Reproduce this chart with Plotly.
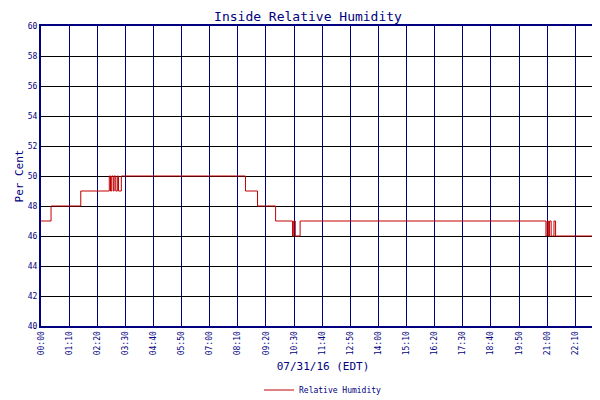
import plotly.graph_objects as go

times = [0, 25, 99, 170, 173, 176, 180, 182, 186, 190, 193, 200, 206, 509, 539, 584, 626, 629, 633, 637, 645, 653, 1257, 1260, 1263, 1266, 1270, 1274, 1277, 1281, 1284, 1391, 1393, 1395, 1398, 1400, 1404]
values = [47, 48, 49, 50, 49, 50, 49, 50, 49, 50, 49, 50, 50, 49, 48, 47, 46, 47, 46, 46, 47, 47, 46, 47, 46, 47, 46, 46, 47, 46, 46, 47, 46, 47, 46, 47, 47]
tick_minutes = [0, 70, 140, 210, 280, 350, 420, 490, 560, 630, 700, 770, 840, 910, 980, 1050, 1120, 1190, 1260, 1330, 1400, 1404]
tick_labels = ["00:00", "01:10", "02:20", "03:30", "04:40", "05:50", "07:00", "08:10", "09:20", "10:30", "11:40", "12:50", "14:00", "15:10", "16:20", "17:30", "18:40", "19:50", "21:00", "22:10", "23:20", "23:24"]
y_ticks = list(range(40, 61, 2))

navy = "#000080"
font = "DejaVu Sans Mono"
fig = go.Figure(go.Scatter(x=times, y=values, mode="lines", line=dict(color="#c00000", width=1, shape="hv"),
                           name="Relative Humidity"))
fig.update_layout(
    width=600, height=400, paper_bgcolor="white", plot_bgcolor="white",
    margin=dict(l=33, r=3, t=18, b=64),
    title=dict(text="Inside Relative Humidity", x=0.5, xanchor="center", y=0.99, yanchor="top",
               font=dict(family=font, size=13, color=navy)),
    font=dict(family=font, size=9, color=navy),
    showlegend=True,
    legend=dict(orientation="h", x=0.5, xanchor="center", y=-0.165, yanchor="top", font=dict(size=8, color=navy)),
)
fig.update_xaxes(range=[0, 1404], tickvals=tick_minutes, ticktext=tick_labels, tickangle=-90, automargin=False,
                 showgrid=True, gridcolor=navy, gridwidth=1, showline=True, linecolor=navy, linewidth=2, mirror=True,
                 title=dict(text="07/31/16 (EDT)", font=dict(size=11, color=navy), standoff=8), tickfont=dict(size=8))
fig.update_yaxes(range=[40, 60], tickvals=y_ticks, showgrid=True, gridcolor="#000000", gridwidth=1, automargin=False,
                 showline=True, linecolor=navy, linewidth=2, mirror=True,
                 title=dict(text="Per Cent", font=dict(size=11, color=navy), standoff=2), tickfont=dict(size=8))
fig.write_html("out.html")
